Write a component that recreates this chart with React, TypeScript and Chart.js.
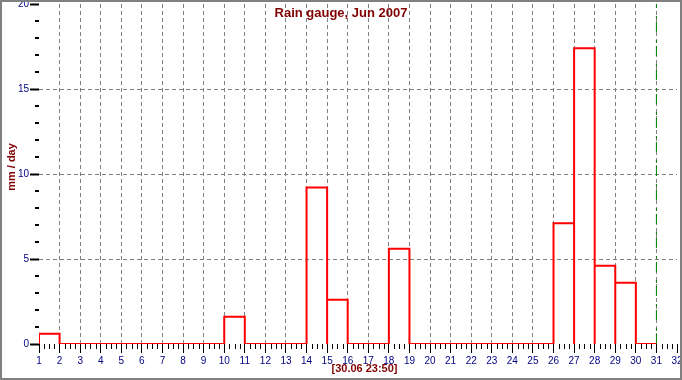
import React, { useEffect, useRef } from 'react';
import { Chart, registerables } from 'chart.js';

Chart.register(...registerables);

// ---- data ----
const days: number[] = [
  1, 2, 3, 4, 5, 6, 7, 8, 9, 10, 11, 12, 13, 14, 15,
  16, 17, 18, 19, 20, 21, 22, 23, 24, 25, 26, 27, 28, 29, 30,
];
const rainfall: number[] = [
  0.6, 0, 0, 0, 0, 0, 0, 0, 0, 1.6, 0, 0, 0, 9.2, 2.6,
  0, 0, 5.6, 0, 0, 0, 0, 0, 0, 0, 7.1, 17.4, 4.6, 3.6, 0,
];
const xRange: number[] = [1, 32];
const yRange: number[] = [0, 20];
const yStep = 5;
const nowMarker = 31;
const titleText = 'Rain gauge, Jun 2007';
const yTitleText = 'mm / day';
const xTitleText = '[30.06 23:50]';

const FONT = "'Liberation Sans', Arial, sans-serif";
const NAVY = '#000080';
const DARKRED = '#800000';
const GRID = '#808080';

// outline of each day's bar, built from the values
const outline: { x: number; y: number }[] = [];
days.forEach((d, i) => {
  const v = rainfall[i];
  outline.push({ x: d, y: 0 }, { x: d, y: v }, { x: d + 1, y: v }, { x: d + 1, y: 0 });
});

const decorPlugin = {
  id: 'decor',
  afterDraw(chart: any) {
    const { ctx, scales } = chart;
    const xs = scales.x;
    const ys = scales.y;
    const bottom = chart.chartArea.bottom;
    const left = chart.chartArea.left;
    ctx.save();
    // minor x ticks (quarter days)
    ctx.strokeStyle = '#000';
    ctx.lineWidth = 1;
    ctx.beginPath();
    for (let q = xRange[0] * 4; q <= xRange[1] * 4; q++) {
      if (q % 4 === 0) continue;
      const px = Math.round(xs.getPixelForValue(q / 4)) + 0.5;
      ctx.moveTo(px, bottom);
      ctx.lineTo(px, bottom + 5);
    }
    ctx.stroke();
    // minor y ticks (each unit)
    ctx.lineWidth = 2;
    ctx.beginPath();
    for (let v = yRange[0]; v <= yRange[1]; v++) {
      if (v % yStep === 0) continue;
      const py = Math.round(ys.getPixelForValue(v));
      ctx.moveTo(left - 4, py);
      ctx.lineTo(left, py);
    }
    ctx.stroke();

    // texts
    ctx.fillStyle = DARKRED;
    ctx.textAlign = 'center';
    ctx.textBaseline = 'middle';
    ctx.font = `bold 13px ${FONT}`;
    ctx.fillText(titleText, chart.width / 2, 13);
    ctx.font = `bold 11px ${FONT}`;
    ctx.fillText(xTitleText, 364.5, 369);
    ctx.translate(12, 167);
    ctx.rotate(-Math.PI / 2);
    ctx.fillText(yTitleText, 0, 0);
    ctx.restore();
  },
};

export default function App() {
  const canvasRef = useRef<HTMLCanvasElement | null>(null);

  useEffect(() => {
    if (!canvasRef.current) return;
    const chart = new Chart(canvasRef.current, {
      type: 'scatter',
      data: {
        datasets: [
          {
            data: outline,
            showLine: true,
            borderColor: '#ff0000',
            borderWidth: 2,
            pointRadius: 0,
            tension: 0,
            fill: false,
            borderJoinStyle: 'miter',
          } as any,
          {
            data: [
              { x: nowMarker, y: yRange[0] },
              { x: nowMarker, y: yRange[1] },
            ],
            showLine: true,
            borderColor: '#008000',
            borderWidth: 1,
            borderDash: [10, 3, 3, 8],
            pointRadius: 0,
            fill: false,
          } as any,
        ],
      },
      options: {
        animation: false,
        responsive: false,
        maintainAspectRatio: false,
        devicePixelRatio: 1,
        layout: { padding: { left: 0, top: 4, right: 5, bottom: 0 } },
        plugins: {
          legend: { display: false },
          tooltip: { enabled: false },
          title: { display: false },
        },
        scales: {
          x: {
            type: 'linear',
            min: xRange[0],
            max: xRange[1],
            ticks: {
              stepSize: 1,
              autoSkip: false,
              maxRotation: 0,
              color: NAVY,
              padding: 2,
              font: { family: FONT, size: 10 },
            },
            grid: {
              color: (c: any) =>
                c.tick && (c.tick.value === xRange[0] || c.tick.value === xRange[1])
                  ? 'rgba(0,0,0,0)'
                  : GRID,
              tickColor: '#000',
              tickLength: 9,
              tickWidth: 1,
              lineWidth: 1,
            },
            border: { display: false, dash: [4, 3] },
            afterFit: (s: any) => {
              s.height = 36;
              s.paddingLeft = 0;
              s.paddingRight = 0;
            },
          },
          y: {
            type: 'linear',
            min: yRange[0],
            max: yRange[1],
            ticks: {
              stepSize: yStep,
              color: NAVY,
              padding: 1,
              font: { family: FONT, size: 10 },
            },
            grid: {
              color: (c: any) =>
                c.tick && (c.tick.value === yRange[0] || c.tick.value === yRange[1])
                  ? 'rgba(0,0,0,0)'
                  : GRID,
              tickColor: '#000',
              tickLength: 9,
              tickWidth: 2,
              lineWidth: 1,
            },
            border: { display: false, dash: [4, 3] },
            afterFit: (s: any) => {
              s.width = 39;
              s.paddingTop = 0;
              s.paddingBottom = 0;
            },
          },
        },
      },
      plugins: [decorPlugin],
    });
    return () => chart.destroy();
  }, []);

  return (
    <div style={{ position: 'fixed', left: 0, top: 0, width: 682, height: 380, background: '#fff' }}>
      <canvas ref={canvasRef} width={682} height={380} style={{ width: 682, height: 380, display: 'block' }} />
      <div
        style={{
          position: 'absolute',
          left: 0,
          top: 0,
          width: 682,
          height: 380,
          boxSizing: 'border-box',
          border: '2px solid #808080',
          pointerEvents: 'none',
        }}
      />
    </div>
  );
}
